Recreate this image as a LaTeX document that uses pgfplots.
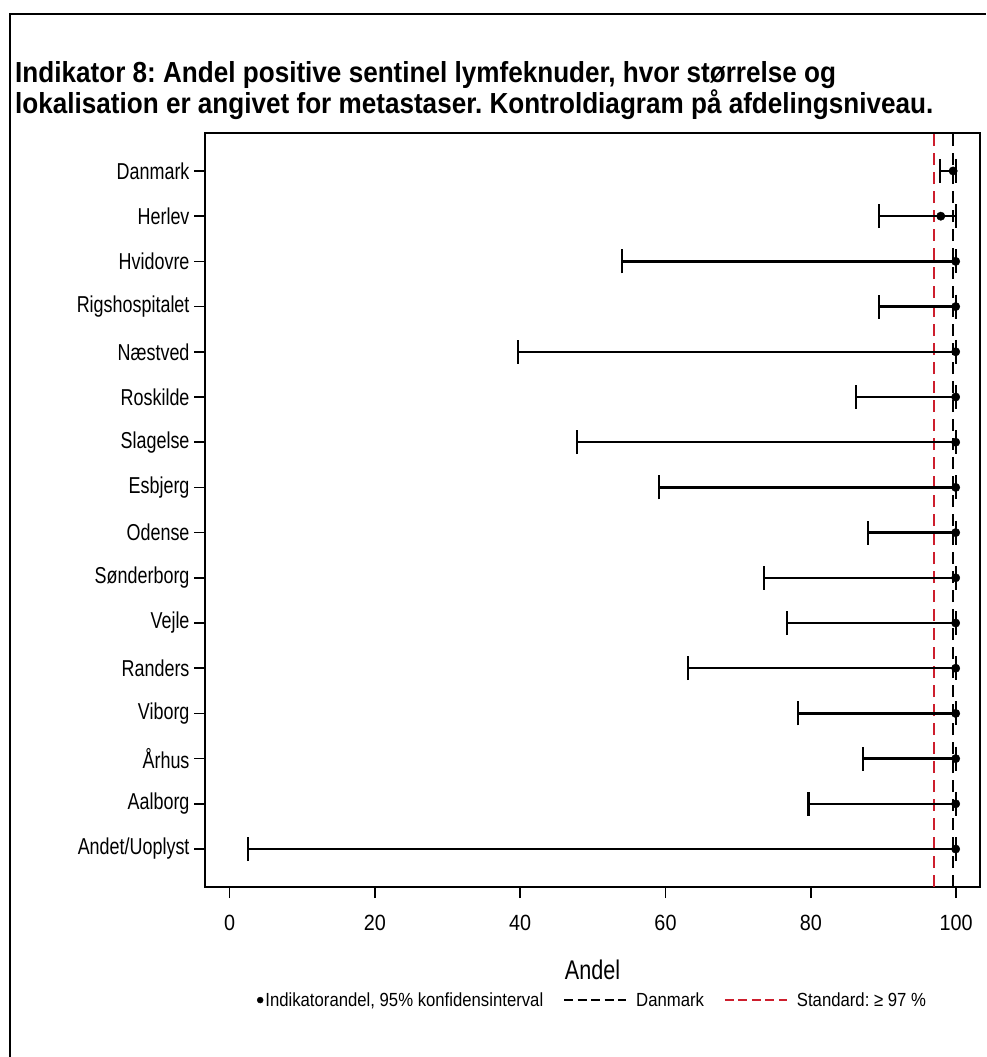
\documentclass[border=0pt]{standalone}
\usepackage{pgfplots}
\pgfplotsset{compat=1.18}
\usepackage{fontspec}
\setmainfont{Liberation Sans}[FakeStretch=0.9]
\newfontfamily\ylabfont{Liberation Sans}[FakeStretch=0.78]
\newfontfamily\legfont{Liberation Sans}[FakeStretch=0.88]
\newfontfamily\andelfont{Liberation Sans}[FakeStretch=0.8]
\definecolor{refred}{RGB}{205,30,45}
\frenchspacing
\begin{document}
\begin{tikzpicture}
\useasboundingbox (0pt,0pt) rectangle (986pt,-1057pt);
\draw[line width=2.5pt] (10pt,-1057pt) -- (10pt,-14pt) -- (986pt,-14pt);
\node[anchor=base west, inner sep=0pt, font=\bfseries\fontsize{29}{32}\selectfont] at (15pt,-82pt) {Indikator 8: Andel positive sentinel lymfeknuder, hvor størrelse og};
\node[anchor=base west, inner sep=0pt, font=\bfseries\fontsize{29}{32}\selectfont] at (15pt,-113pt) {lokalisation er angivet for metastaser. Kontroldiagram på afdelingsniveau.};
\begin{axis}[
  at={(205pt,-887pt)}, anchor=south west,
  width=775pt, height=754pt, scale only axis,
  xmin=-3.4, xmax=103.3, ymin=-0.84, ymax=15.84,
  axis line style={line width=2pt},
  xtick={0,20,40,60,80,100},
  ytick={0,...,15},
  yticklabels={Andet/Uoplyst,Aalborg,Århus,Viborg,Randers,Vejle,Sønderborg,Odense,Esbjerg,Slagelse,Roskilde,Næstved,Rigshospitalet,Hvidovre,Herlev,Danmark},
  tick align=outside, xtick pos=bottom, ytick pos=left,
  major tick length=11pt,
  tick style={line width=1.5pt, black},
  /pgf/number format/assume math mode=true,
  xticklabel style={font=\fontsize{22}{24}\selectfont, yshift=-14pt},
  yticklabel style={font=\ylabfont\fontsize{23}{26}\selectfont, xshift=-1pt},
  xlabel={Andel},
  xlabel style={font=\andelfont\fontsize{27}{30}\selectfont, at={(axis description cs:0.5,-0.11)}, anchor=center},
  legend style={at={(axis description cs:0.5,-0.15)}, anchor=center, draw=none, fill=none,
    font=\legfont\fontsize{19}{22}\selectfont, legend columns=3,
    /tikz/every even column/.append style={column sep=18pt}},
]
\addplot[refred, line width=2pt, dash pattern=on 12pt off 7pt, forget plot] coordinates {(97,-0.84) (97,15.84)};
\addplot[black, line width=2pt, dash pattern=on 12pt off 7pt, forget plot] coordinates {(99.6,-0.84) (99.6,15.84)};
\addplot[black, only marks, mark=*, mark size=4.2pt, forget plot,
  error bars/.cd, x dir=both, x explicit, error mark=|,
  error bar style={line width=2.3pt, black},
  error mark options={line width=2.3pt, mark size=12pt, black}]
coordinates {
 (99.6,15) -= (1.8,0) += (0.4,0)
 (97.9,14) -= (8.5,0) += (2.1,0)
 (99.95,13) -= (45.95,0) += (0.05,0)
 (99.95,12) -= (10.55,0) += (0.05,0)
 (99.95,11) -= (60.25,0) += (0.05,0)
 (99.95,10) -= (13.75,0) += (0.05,0)
 (99.95,9) -= (52.15,0) += (0.05,0)
 (99.95,8) -= (40.85,0) += (0.05,0)
 (99.95,7) -= (12.05,0) += (0.05,0)
 (99.95,6) -= (26.35,0) += (0.05,0)
 (99.95,5) -= (23.25,0) += (0.05,0)
 (99.95,4) -= (36.85,0) += (0.05,0)
 (99.95,3) -= (21.75,0) += (0.05,0)
 (99.95,2) -= (12.75,0) += (0.05,0)
 (99.95,1) -= (20.25,0) += (0.05,0)
 (99.95,0) -= (97.45,0) += (0.05,0)
};
\addlegendimage{legend image code/.code={\fill[black] (0.5cm,0pt) circle (3pt);}}
\addlegendentry{Indikatorandel, 95\% konfidensinterval}
\addlegendimage{legend image code/.code={\path[draw=none,fill=none] (0pt,-1pt) rectangle (70pt,1pt); \draw[black, line width=1.8pt, dash pattern=on 9pt off 4.5pt] (0pt,0pt) -- (62pt,0pt);}}
\addlegendentry{Danmark}
\addlegendimage{legend image code/.code={\path[draw=none,fill=none] (0pt,-1pt) rectangle (70pt,1pt); \draw[refred, line width=1.8pt, dash pattern=on 9pt off 4.5pt] (0pt,0pt) -- (62pt,0pt);}}
\addlegendentry{Standard: ≥ 97 \%}
\end{axis}
\end{tikzpicture}
\end{document}
